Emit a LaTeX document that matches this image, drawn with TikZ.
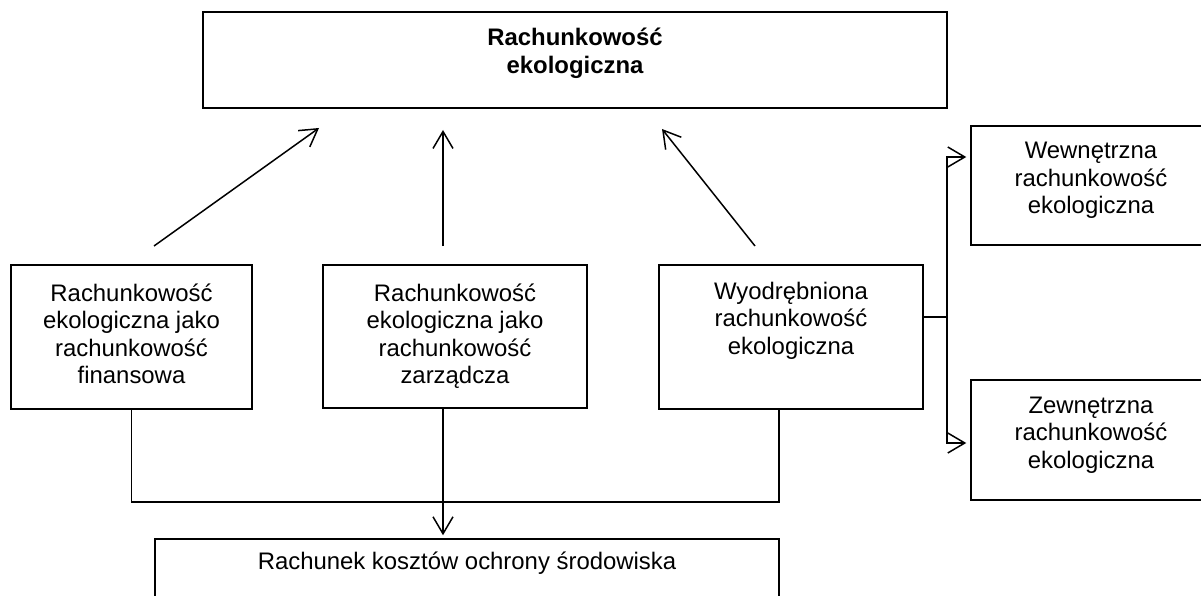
\documentclass[tikz,border=0pt]{standalone}
\usepackage{fontspec}
\setmainfont{Liberation Sans}
\usetikzlibrary{arrows.meta}
\begin{document}
\begin{tikzpicture}[x=1pt,y=-1pt,
  box/.style={draw, line width=1.5pt, rectangle, inner sep=0pt},
  lbl/.style={anchor=base, inner sep=0pt, font=\fontsize{23.9}{27.5}\selectfont},
  conn/.style={line width=1.5pt},
  arr/.style={line width=1.5pt, -{Straight Barb[length=17pt,width=20pt,line width=1.5pt]}}]
\useasboundingbox (0,0) rectangle (1201,596);
\clip (0,0) rectangle (1201,596);
\fill[white] (0,0) rectangle (1201,596);

% boxes
\node[box, minimum width=744pt, minimum height=96pt] (top) at (575,60) {};
\node[box, minimum width=241pt, minimum height=144pt] (A) at (131.5,337) {};
\node[box, minimum width=264pt, minimum height=143pt] (B) at (455,336.5) {};
\node[box, minimum width=264pt, minimum height=144pt] (C) at (791,337) {};
\node[box, minimum width=240pt, minimum height=119pt] (W) at (1091,185.5) {};
\node[box, minimum width=240pt, minimum height=120pt] (Z) at (1091,440) {};
\node[box, minimum width=624pt, minimum height=101pt] (K) at (467,589.5) {};

% texts
\node[lbl, font=\fontsize{23.9}{27.5}\selectfont\bfseries] (topT) at (575,46)
  {\begin{tabular}[t]{@{}c@{}}Rachunkowość\\ekologiczna\end{tabular}};
\node[lbl] (AT) at (131.5,301)
  {\begin{tabular}[t]{@{}c@{}}Rachunkowość\\ekologiczna jako\\rachunkowość\\finansowa\end{tabular}};
\node[lbl] (BT) at (455,301)
  {\begin{tabular}[t]{@{}c@{}}Rachunkowość\\ekologiczna jako\\rachunkowość\\zarządcza\end{tabular}};
\node[lbl] (CT) at (791,299)
  {\begin{tabular}[t]{@{}c@{}}Wyodrębniona\\rachunkowość\\ekologiczna\end{tabular}};
\node[lbl] (WT) at (1091,159)
  {\begin{tabular}[t]{@{}c@{}}Wewnętrzna\\rachunkowość\\ekologiczna\end{tabular}};
\node[lbl] (ZT) at (1091,413)
  {\begin{tabular}[t]{@{}c@{}}Zewnętrzna\\rachunkowość\\ekologiczna\end{tabular}};
\node[lbl] (KT) at (467,569) {Rachunek kosztów ochrony środowiska};

% free-standing arrows towards the top box
\coordinate (la) at (154,246);  \coordinate (lt) at (319,128);
\coordinate (ma) at (443,246);  \coordinate (mt) at (443,130);
\coordinate (ra) at (755,246);  \coordinate (rt) at (662,129);
\draw[arr] (la) -- (lt);
\draw[arr] (ma) -- (mt);
\draw[arr] (ra) -- (rt);

% lower connectors
\coordinate (j1) at (131.5,502);
\coordinate (j2) at (779,502);
\coordinate (cB) at (779,409);
\draw[conn] (A.south) -- (j1) -- (j2) -- (cB);
\coordinate (bB) at (443,408);
\draw[arr, shorten >=3pt] (bB) -- (K.north -| bB);

% right branch
\coordinate (cR) at (923,317);
\coordinate (br) at (947,317);
\coordinate (bt) at (947,157);
\coordinate (bb) at (947,443);
\draw[conn] (cR) -- (br);
\draw[arr, shorten >=4pt] (bb) -- (bt) -- (W.west |- bt);
\draw[arr, shorten >=4pt] (bt) -- (bb) -- (Z.west |- bb);
\end{tikzpicture}
\end{document}
